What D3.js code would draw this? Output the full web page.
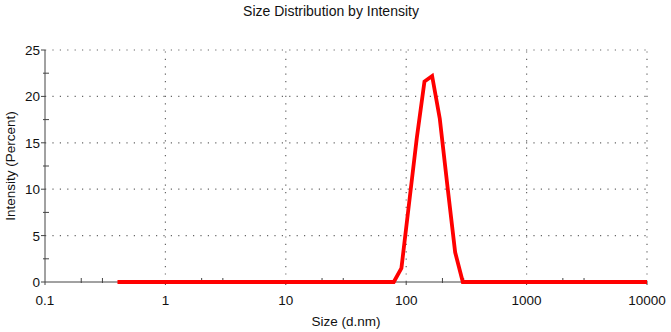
<!DOCTYPE html>
<html>
<head>
<meta charset="utf-8">
<script src="https://cdn.jsdelivr.net/npm/d3@7"></script>
<style>
  body { margin: 0; background: #fff; }
  svg text { font-family: "Liberation Sans", Arial, sans-serif; fill: #111; }
</style>
</head>
<body>
<svg id="chart" width="671" height="332"></svg>
<script>
// Size classes (d.nm) and intensity (%)
const sizes = [0.4, 78.82, 91.28, 105.7, 122.4, 141.8, 164.2, 190.1, 220.2, 255.0, 295.3, 10000];
const intensity = [0, 0, 1.5, 8.5, 15.5, 21.6, 22.2, 17.6, 10.3, 3.2, 0, 0];

const xMajorTicks = [0.1, 1, 10, 100, 1000, 10000];
const xMinorTicks = [0.2, 0.3, 2, 3, 20, 30, 200, 300, 2000, 3000];
const yMajorTicks = [0, 5, 10, 15, 20, 25];
const yMinorTicks = [2.5, 7.5, 12.5, 17.5, 22.5];

const svg = d3.select("#chart");
const margin = { left: 45, right: 24, top: 50, bottom: 50 };
const width = 671, height = 332;

const x = d3.scaleLog()
    .domain([0.1, 10000])
    .range([margin.left, width - margin.right]);
const y = d3.scaleLinear()
    .domain([0, 25])
    .range([height - margin.bottom, margin.top]);

const axisColor = "#444";
const gridColor = "#666";

// dotted grid
svg.append("g").selectAll("line")
    .data(yMajorTicks.filter(d => d > 0))
    .enter().append("line")
    .attr("x1", x(0.1)).attr("x2", x(10000))
    .attr("y1", d => y(d)).attr("y2", d => y(d))
    .attr("stroke", gridColor)
    .attr("stroke-width", 1.2)
    .attr("stroke-dasharray", "1.2,6.2");

svg.append("g").selectAll("line")
    .data(xMajorTicks.filter(d => d > 0.1))
    .enter().append("line")
    .attr("x1", d => x(d)).attr("x2", d => x(d))
    .attr("y1", y(0)).attr("y2", y(25))
    .attr("stroke", gridColor)
    .attr("stroke-width", 1.2)
    .attr("stroke-dasharray", "1.2,6.2");

// axes lines
svg.append("line")
    .attr("x1", x(0.1)).attr("x2", x(10000))
    .attr("y1", y(0)).attr("y2", y(0))
    .attr("stroke", axisColor).attr("stroke-width", 1);
svg.append("line")
    .attr("x1", x(0.1)).attr("x2", x(0.1))
    .attr("y1", y(0)).attr("y2", y(25))
    .attr("stroke", axisColor).attr("stroke-width", 1);

// y ticks
svg.append("g").selectAll("line")
    .data(yMajorTicks)
    .enter().append("line")
    .attr("x1", x(0.1) - 4).attr("x2", x(0.1))
    .attr("y1", d => y(d)).attr("y2", d => y(d))
    .attr("stroke", axisColor);
svg.append("g").selectAll("line")
    .data(yMinorTicks)
    .enter().append("line")
    .attr("x1", x(0.1) - 2).attr("x2", x(0.1) + 4)
    .attr("y1", d => y(d)).attr("y2", d => y(d))
    .attr("stroke", axisColor);

// x ticks
svg.append("g").selectAll("line")
    .data(xMinorTicks)
    .enter().append("line")
    .attr("x1", d => x(d)).attr("x2", d => x(d))
    .attr("y1", y(0) + 1).attr("y2", y(0) - 4)
    .attr("stroke", axisColor);
svg.append("g").selectAll("line")
    .data(xMajorTicks)
    .enter().append("line")
    .attr("x1", d => x(d)).attr("x2", d => x(d))
    .attr("y1", y(0) + 3).attr("y2", y(0))
    .attr("stroke", axisColor);

// tick labels
svg.append("g").selectAll("text")
    .data(yMajorTicks)
    .enter().append("text")
    .attr("x", x(0.1) - 5)
    .attr("y", d => y(d) + 5)
    .attr("text-anchor", "end")
    .style("font-size", "13.5px")
    .text(d => d);

svg.append("g").selectAll("text")
    .data(xMajorTicks)
    .enter().append("text")
    .attr("x", d => x(d))
    .attr("y", y(0) + 22.5)
    .attr("text-anchor", "middle")
    .style("font-size", "13.5px")
    .text(d => d);

// titles
svg.append("text")
    .attr("x", 331).attr("y", 16)
    .attr("text-anchor", "middle")
    .style("font-size", "14px")
    .text("Size Distribution by Intensity");

svg.append("text")
    .attr("x", 346).attr("y", 326)
    .attr("text-anchor", "middle")
    .style("font-size", "13.5px")
    .text("Size (d.nm)");

svg.append("text")
    .attr("transform", `translate(15, ${y(12.5)}) rotate(-90)`)
    .attr("text-anchor", "middle")
    .style("font-size", "13.5px")
    .text("Intensity (Percent)");

// distribution line
const line = d3.line()
    .x((d, i) => x(sizes[i]))
    .y(d => y(d));

svg.append("path")
    .datum(intensity)
    .attr("d", line)
    .attr("fill", "none")
    .attr("stroke", "#ff0000")
    .attr("stroke-width", 3.8)
    .attr("stroke-linejoin", "miter");
</script>
</body>
</html>
